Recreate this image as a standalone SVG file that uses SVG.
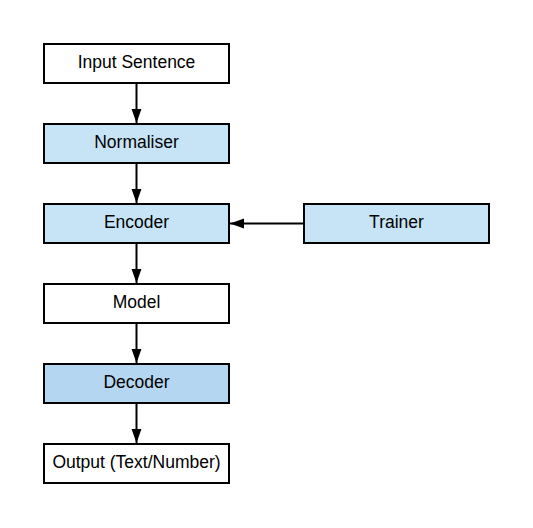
<svg xmlns="http://www.w3.org/2000/svg" width="533" height="528" viewBox="0 0 533 528">
<style>
.box{stroke:#000;stroke-width:2}
.w{fill:#fff}.b{fill:#c6e4f6}.d{fill:#b4d6f0}
text{font-family:"Liberation Sans",Arial,sans-serif;font-size:17.5px;fill:#000;text-anchor:middle}
.c{stroke:#000;stroke-width:2;fill:none}
</style>
<defs>
<marker id="ah" markerUnits="userSpaceOnUse" markerWidth="14" markerHeight="14" refX="17" refY="7" orient="auto" viewBox="0 0 17 14"><path d="M0,1 L17,7 L0,13 Z" fill="#000"/></marker>
</defs>
<rect width="533" height="528" fill="#fff"/>
<g id="connectors">
<line class="c" x1="136.5" y1="83" x2="136.5" y2="123" marker-end="url(#ah)"/>
<line class="c" x1="136.5" y1="163" x2="136.5" y2="203" marker-end="url(#ah)"/>
<line class="c" x1="136.5" y1="243" x2="136.5" y2="283" marker-end="url(#ah)"/>
<line class="c" x1="136.5" y1="323" x2="136.5" y2="363" marker-end="url(#ah)"/>
<line class="c" x1="136.5" y1="403" x2="136.5" y2="443" marker-end="url(#ah)"/>
<line class="c" x1="304" y1="223.5" x2="230" y2="223.5" marker-end="url(#ah)"/>
</g>
<g id="input"><rect class="box w" x="44" y="44" width="185" height="39"/><text x="136.5" y="67.5">Input Sentence</text></g>
<g id="normaliser"><rect class="box b" x="44" y="124" width="185" height="39"/><text x="136.5" y="147.5">Normaliser</text></g>
<g id="encoder"><rect class="box b" x="44" y="204" width="185" height="39"/><text x="136.5" y="227.5">Encoder</text></g>
<g id="trainer"><rect class="box b" x="304" y="204" width="185" height="39"/><text x="396.5" y="227.5">Trainer</text></g>
<g id="model"><rect class="box w" x="44" y="284" width="185" height="39"/><text x="136.5" y="307.5">Model</text></g>
<g id="decoder"><rect class="box d" x="44" y="364" width="185" height="39"/><text x="136.5" y="387.5">Decoder</text></g>
<g id="output"><rect class="box w" x="44" y="444" width="185" height="39"/><text x="136.5" y="467.5">Output (Text/Number)</text></g>
</svg>
